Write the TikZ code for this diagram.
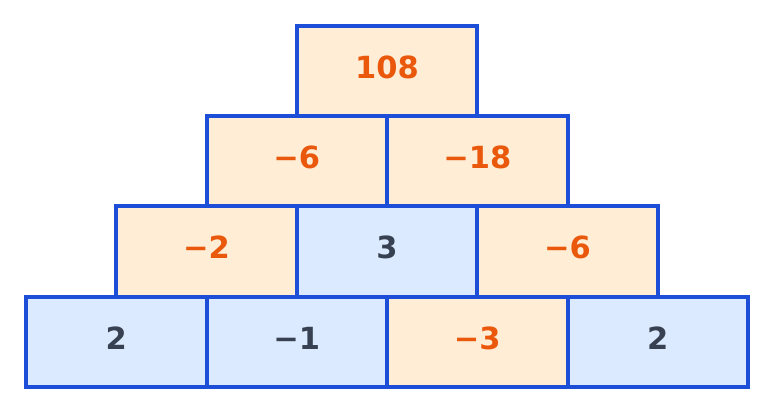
\documentclass[tikz,border=0pt]{standalone}
\usepackage{fontspec}
\setmainfont{DejaVu Sans}
\definecolor{bordc}{HTML}{1D4ED8}
\definecolor{ofill}{HTML}{FFEDD5}
\definecolor{bfill}{HTML}{DBEAFE}
\definecolor{otext}{HTML}{EA580C}
\definecolor{dtext}{HTML}{374151}
\tikzset{
  cell/.style={draw=bordc, line width=4bp, minimum width=180.5bp, minimum height=90.3bp,
    inner sep=0pt, outer sep=0pt, text height=21.9bp, text depth=7bp,
    font=\fontsize{30.5bp}{30bp}\selectfont\bfseries},
  ocell/.style={cell, fill=ofill, text=otext},
  bcell/.style={cell, fill=bfill, text=dtext}
}
\begin{document}
\begin{tikzpicture}[x=1bp,y=-1bp]
\useasboundingbox (0,0) rectangle (774,413);
% bottom row
\node[bcell] (d1) at (116.25,342.2) {2};
\node[bcell] (d2) at (296.75,342.2) {−1};
\node[ocell] (d3) at (477.25,342.2) {−3};
\node[bcell] (d4) at (657.75,342.2) {2};
% third row
\node[ocell] (c1) at (206.5,251.5) {−2};
\node[bcell] (c2) at (387,251.5) {3};
\node[ocell] (c3) at (567.5,251.5) {−6};
% second row
\node[ocell] (b1) at (296.75,161) {−6};
\node[ocell] (b2) at (477.25,161) {−18};
% top
\node[ocell] (a1) at (387,70.8) {108};
\end{tikzpicture}
\end{document}
